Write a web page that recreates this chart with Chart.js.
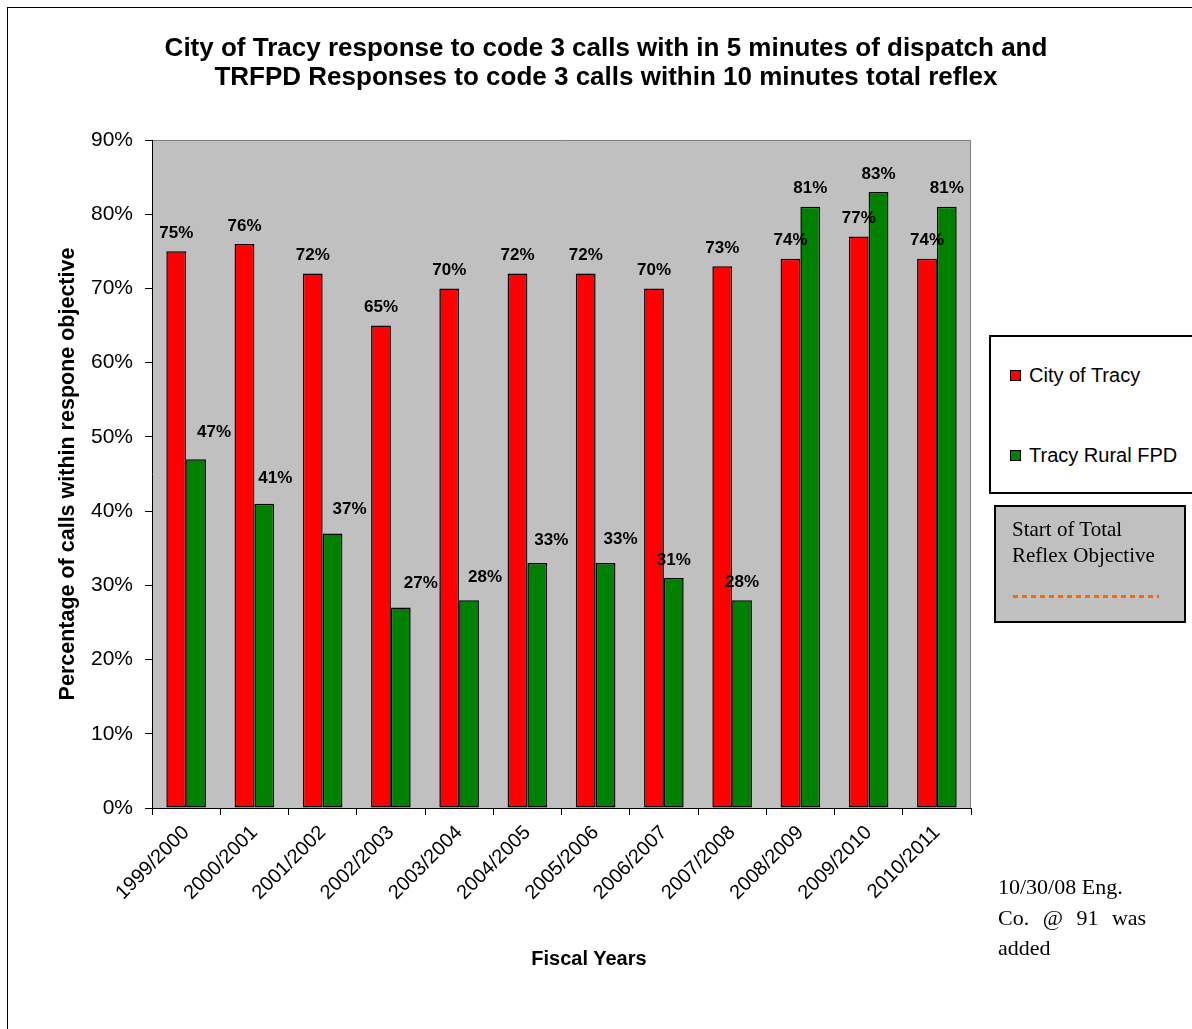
<!DOCTYPE html>
<html>
<head>
<meta charset="utf-8">
<script src="https://cdn.jsdelivr.net/npm/chart.js@4.4.1/dist/chart.umd.min.js"></script>
<style>
  html, body { margin: 0; padding: 0; background: #fff; overflow: hidden; }
  #wrap { position: relative; width: 1192px; height: 1029px; overflow: hidden; font-family: "Liberation Sans", Arial, sans-serif; }
  #frame { position: absolute; left: 7px; top: 7px; width: 1300px; height: 1100px; border-left: 1px solid #000; border-top: 1px solid #000; }
  #chart { position: absolute; left: 0; top: 0; }
  #title { position: absolute; left: 7px; width: 1198px; top: 33px; text-align: center; font-weight: bold; font-size: 26px; line-height: 29px; }
  #xtitle { position: absolute; left: 489px; width: 200px; top: 946px; text-align: center; font-weight: bold; font-size: 20px; line-height: 24px; }
  #legend { position: absolute; left: 989px; top: 335px; width: 260px; height: 155px; border: 2px solid #000; background: #fff; }
  .item { position: absolute; left: 19px; font-size: 20px; line-height: 24px; }
  .item i { position: absolute; left: 0; top: 7px; width: 9px; height: 9px; border: 1px solid #000; }
  .item span { position: absolute; left: 19px; top: 0; white-space: nowrap; }
  #reflex { position: absolute; left: 994px; top: 505px; width: 188px; height: 114px; border: 2px solid #000; background: #c0c0c0; }
  #reflex p { margin: 0; position: absolute; left: 16px; top: 9px; font-family: "Liberation Serif", "Times New Roman", serif; font-size: 21px; line-height: 26px; white-space: nowrap; }
  #reflex b { position: absolute; left: 17px; top: 88px; width: 146px; height: 3px; background: repeating-linear-gradient(90deg, #ff6600 0 5px, transparent 5px 9px); }
  #note { position: absolute; left: 998px; top: 872px; font-family: "Liberation Serif", "Times New Roman", serif; font-size: 22px; line-height: 30.5px; white-space: nowrap; }
  #note .wide { word-spacing: 8px; }
</style>
</head>
<body>
<div id="wrap">
  <div id="frame"></div>
  <canvas id="chart" width="1192" height="1029"></canvas>
  <div id="title">City of Tracy response to code 3 calls with in 5 minutes of dispatch and<br>TRFPD Responses to code 3 calls within 10 minutes total reflex</div>
  <div id="xtitle">Fiscal Years</div>
  <div id="legend"></div>
  <div id="reflex"><p>Start of Total<br>Reflex Objective</p><b></b></div>
  <div id="note">10/30/08 Eng.<br><span class="wide">Co. @ 91 was</span><br>added</div>
</div>
<script>
// Data
var fiscalYears = ['1999/2000', '2000/2001', '2001/2002', '2002/2003', '2003/2004', '2004/2005',
  '2005/2006', '2006/2007', '2007/2008', '2008/2009', '2009/2010', '2010/2011'];
var cityOfTracy = [75, 76, 72, 65, 70, 72, 72, 70, 73, 74, 77, 74];
var tracyRural = [47, 41, 37, 27, 28, 33, 33, 31, 28, 81, 83, 81];
var seriesNames = ['City of Tracy', 'Tracy Rural FPD'];
var seriesColors = ['#ff0000', '#008000'];
var yMax = 90;
var yStep = 10;

// hand-moved labels in the original (px nudges for the rural labels)
var ruralLabelNudgeX = [18, 11, 17, 20, 16, 14, 15, 0, 0, 0, 0, 0];
var ruralLabelNudgeY = [9, 7, 6, 6, 5, 5, 6, 0, 0, 0, 0, 0];

var FONT = '"Liberation Sans", Arial, sans-serif';

// Legend
var legendEl = document.getElementById('legend');
seriesNames.forEach(function (name, i) {
  var item = document.createElement('div');
  item.className = 'item';
  item.style.top = (26 + i * 80) + 'px';
  item.innerHTML = '<i style="background:' + seriesColors[i] + '"></i><span>' + name + '</span>';
  legendEl.appendChild(item);
});

// Gray plot area with thin border on top / right
var plotBackground = {
  id: 'plotBackground',
  beforeDraw: function (chart) {
    var a = chart.chartArea, ctx = chart.ctx;
    ctx.save();
    ctx.fillStyle = '#c0c0c0';
    ctx.fillRect(a.left, a.top, a.right - a.left, a.bottom - a.top);
    ctx.strokeStyle = '#808080';
    ctx.lineWidth = 1;
    ctx.beginPath();
    ctx.moveTo(a.left, a.top + 0.5);
    ctx.lineTo(a.right - 0.5, a.top + 0.5);
    ctx.lineTo(a.right - 0.5, a.bottom);
    ctx.stroke();
    ctx.restore();
  }
};

// Percent labels above the bars
var barLabels = {
  id: 'barLabels',
  afterDatasetsDraw: function (chart) {
    var ctx = chart.ctx;
    ctx.save();
    ctx.font = 'bold 17px ' + FONT;
    ctx.fillStyle = '#000';
    ctx.textAlign = 'center';
    ctx.textBaseline = 'middle';
    chart.data.datasets.forEach(function (ds, d) {
      chart.getDatasetMeta(d).data.forEach(function (bar, i) {
        var dx = d === 1 ? ruralLabelNudgeX[i] : 0;
        var dy = d === 1 ? ruralLabelNudgeY[i] : 0;
        ctx.fillText(ds.data[i] + '%', bar.x + dx, bar.y - 18 - dy);
      });
    });
    ctx.restore();
  }
};

var ctx = document.getElementById('chart').getContext('2d');
new Chart(ctx, {
  type: 'bar',
  data: {
    labels: fiscalYears,
    datasets: [
      { label: seriesNames[0], data: cityOfTracy, backgroundColor: seriesColors[0], borderColor: '#000', borderWidth: 1.5, borderSkipped: false },
      { label: seriesNames[1], data: tracyRural, backgroundColor: seriesColors[1], borderColor: '#000', borderWidth: 1.5, borderSkipped: false }
    ]
  },
  options: {
    responsive: false,
    animation: false,
    events: [],
    layout: { padding: { top: 140, right: 221, left: 0, bottom: 0 } },
    datasets: { bar: { categoryPercentage: 0.58, barPercentage: 1 } },
    plugins: { legend: { display: false }, title: { display: false }, tooltip: { enabled: false } },
    scales: {
      x: {
        offset: true,
        grid: { offset: true, drawOnChartArea: false, drawTicks: true, tickLength: 7, color: '#000' },
        border: { color: '#000', width: 1 },
        ticks: { autoSkip: false, minRotation: 45, maxRotation: 45, color: '#000', padding: 6, font: { family: FONT, size: 20 } },
        afterFit: function (scale) { scale.height = 221; }
      },
      y: {
        min: 0,
        max: yMax,
        grid: { drawOnChartArea: false, drawTicks: true, tickLength: 7, color: '#000' },
        border: { color: '#000', width: 1 },
        ticks: {
          stepSize: yStep,
          color: '#000',
          padding: 12,
          font: { family: FONT, size: 21 },
          callback: function (v) { return v + '%'; }
        },
        title: {
          display: true,
          text: 'Percentage of calls within respone objective',
          color: '#000',
          font: { family: FONT, size: 21.5, weight: 'bold' },
          padding: { top: 55, bottom: 0 }
        },
        afterFit: function (scale) { scale.width = 152; }
      }
    }
  },
  plugins: [plotBackground, barLabels]
});
</script>
</body>
</html>
